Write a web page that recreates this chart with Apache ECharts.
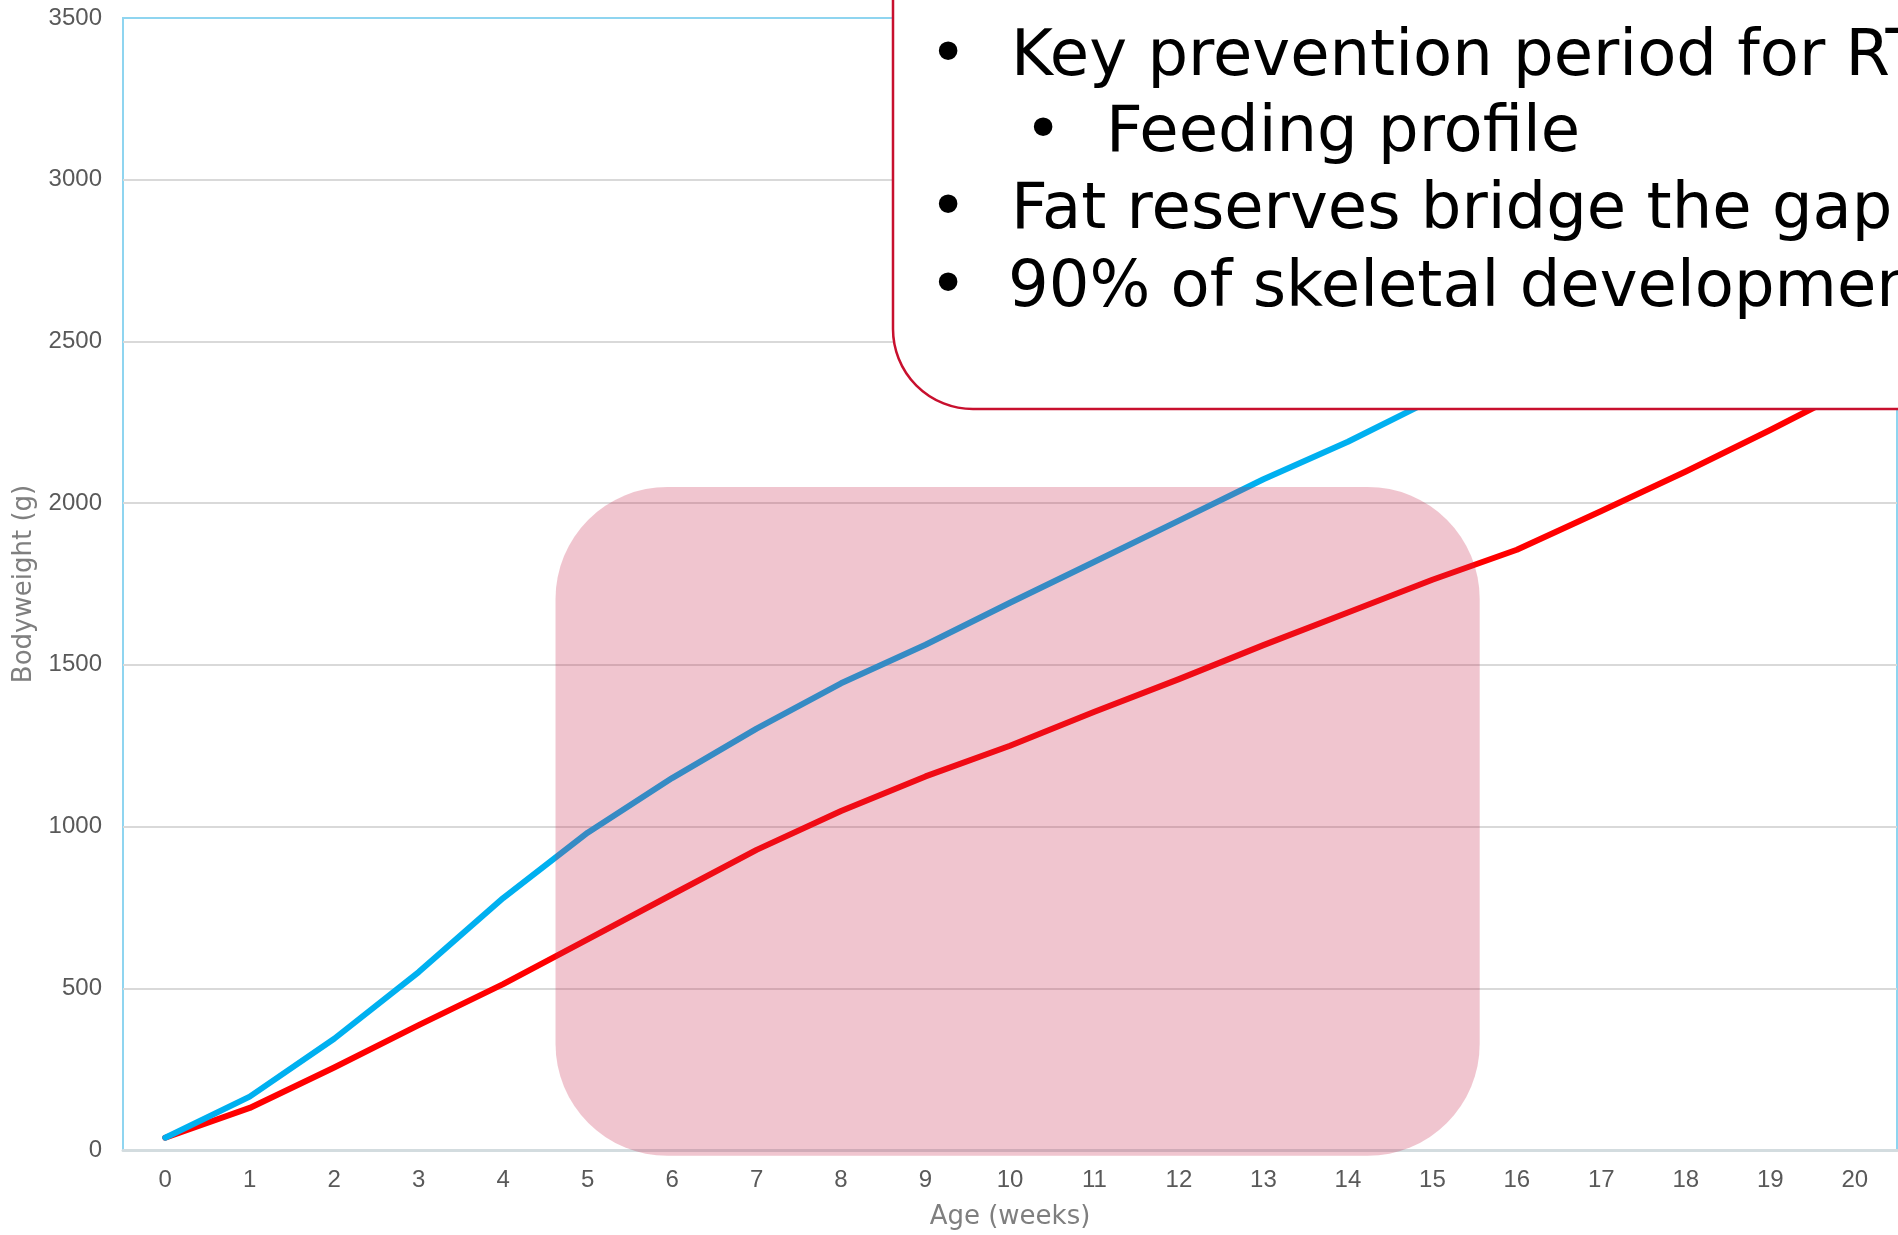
<!DOCTYPE html>
<html>
<head>
<meta charset="utf-8">
<title>Bodyweight by age</title>
<script src="https://cdn.jsdelivr.net/npm/echarts@6/dist/echarts.min.js"></script>
<style>
  html, body { margin: 0; padding: 0; background: #fff; }
  #main { width: 1898px; height: 1235px; }
</style>
</head>
<body>
<div id="main"></div>
<script>
// age in weeks (category axis)
var weeks = ['0', '1', '2', '3', '4', '5', '6', '7', '8', '9', '10',
  '11', '12', '13', '14', '15', '16', '17', '18', '19', '20']
// bodyweight (g); the blue line runs under the callout after week 15
var blueWeights = [38, 165, 344, 550, 779, 981, 1150, 1303, 1443, 1562, 1692,
  1819, 1946, 2074, 2190, 2320, 2430, 2540, 2650, 2760, 2870]
var redWeights = [38, 130, 255, 386, 513, 651, 790, 928, 1048, 1155, 1250,
  1355, 1456, 1561, 1662, 1763, 1856, 1976, 2098, 2226, 2360]
var yTicks = { min: 0, max: 3500, step: 500 }
// highlighted period (weeks) and its top (g)
var period = { from: 4.62, to: 15.56, top: 2050, bottom: -18 }
var callout = [
  { bullet: 948, x: 1011, y: 58, text: 'Key prevention period for RT' },
  { bullet: 1043, x: 1106, y: 134, text: 'Feeding profile' },
  { bullet: 948, x: 1011, y: 211, text: 'Fat reserves bridge the gap' },
  { bullet: 948, x: 1008, y: 289, text: '90% of skeletal development' }
]

var labelFont = '"Liberation Sans", Arial, sans-serif'
var nameFont = '"DejaVu Sans", sans-serif'

var calloutGraphics = [{
  type: 'rect',
  id: 'calloutBox',
  z: 20,
  shape: { x: 893, y: -120, width: 1200, height: 529, r: 80 },
  style: { fill: '#ffffff', stroke: '#C8102E', lineWidth: 2.5 }
}]
callout.forEach(function (c, i) {
  calloutGraphics.push({
    type: 'text', id: 'bul' + i, z: 21,
    style: { text: '\u2022', x: c.bullet, y: c.y, font: '64px ' + nameFont, fill: '#000', textAlign: 'center', textVerticalAlign: 'middle' }
  })
  calloutGraphics.push({
    type: 'text', id: 'txt' + i, z: 21,
    style: { text: c.text, x: c.x, y: c.y, font: '64px ' + nameFont, fill: '#000', textAlign: 'left', textVerticalAlign: 'middle' }
  })
})

var option = {
  animation: false,
  backgroundColor: '#ffffff',
  grid: {
    left: 123,
    right: 1,
    top: 18,
    bottom: 85,
    show: true,
    borderColor: '#8FD5F0',
    borderWidth: 2
  },
  xAxis: {
    type: 'category',
    boundaryGap: true,
    data: weeks,
    name: 'Age (weeks)',
    nameLocation: 'middle',
    nameGap: 54,
    nameTextStyle: { fontFamily: nameFont, fontSize: 26, color: '#7f7f7f' },
    axisLine: { lineStyle: { color: '#D3DCDF', width: 3 } },
    axisTick: { show: false },
    axisLabel: { margin: 18, fontFamily: labelFont, fontSize: 24, color: '#595959' }
  },
  yAxis: {
    type: 'value',
    min: yTicks.min,
    max: yTicks.max,
    interval: yTicks.step,
    name: 'Bodyweight (g)',
    nameLocation: 'middle',
    nameGap: 78,
    nameTextStyle: { fontFamily: nameFont, fontSize: 26, color: '#7f7f7f' },
    axisLine: { show: false },
    axisTick: { show: false },
    axisLabel: {
      margin: 21, fontFamily: labelFont, fontSize: 24, color: '#595959',
      formatter: function (v) { return String(v) }
    },
    splitLine: { showMinLine: false, showMaxLine: false, lineStyle: { color: '#D9D9D9', width: 2 } }
  },
  series: [
    {
      name: 'red',
      type: 'line',
      data: redWeights,
      symbol: 'none',
      lineStyle: { color: '#FF0000', width: 6, cap: 'round', join: 'round' },
      z: 3
    },
    {
      name: 'blue',
      type: 'line',
      data: blueWeights,
      symbol: 'none',
      lineStyle: { color: '#00B0F0', width: 6, cap: 'round', join: 'round' },
      z: 4
    }
  ],
  graphic: calloutGraphics
}

var chart = echarts.init(document.getElementById('main'))
chart.setOption(option)

// pink period box, placed through the axes
var px0 = chart.convertToPixel({ xAxisIndex: 0 }, 0)
var pxStep = chart.convertToPixel({ xAxisIndex: 0 }, 1) - px0
var boxLeft = px0 + period.from * pxStep
var boxRight = px0 + period.to * pxStep
var boxTop = chart.convertToPixel({ yAxisIndex: 0 }, period.top)
var boxBottom = chart.convertToPixel({ yAxisIndex: 0 }, period.bottom)
chart.setOption({
  graphic: [{
    type: 'rect',
    id: 'periodBox',
    z: 10,
    shape: { x: boxLeft, y: boxTop, width: boxRight - boxLeft, height: boxBottom - boxTop, r: 112 },
    style: { fill: 'rgba(199, 41, 79, 0.27)' }
  }]
})
</script>
</body>
</html>
